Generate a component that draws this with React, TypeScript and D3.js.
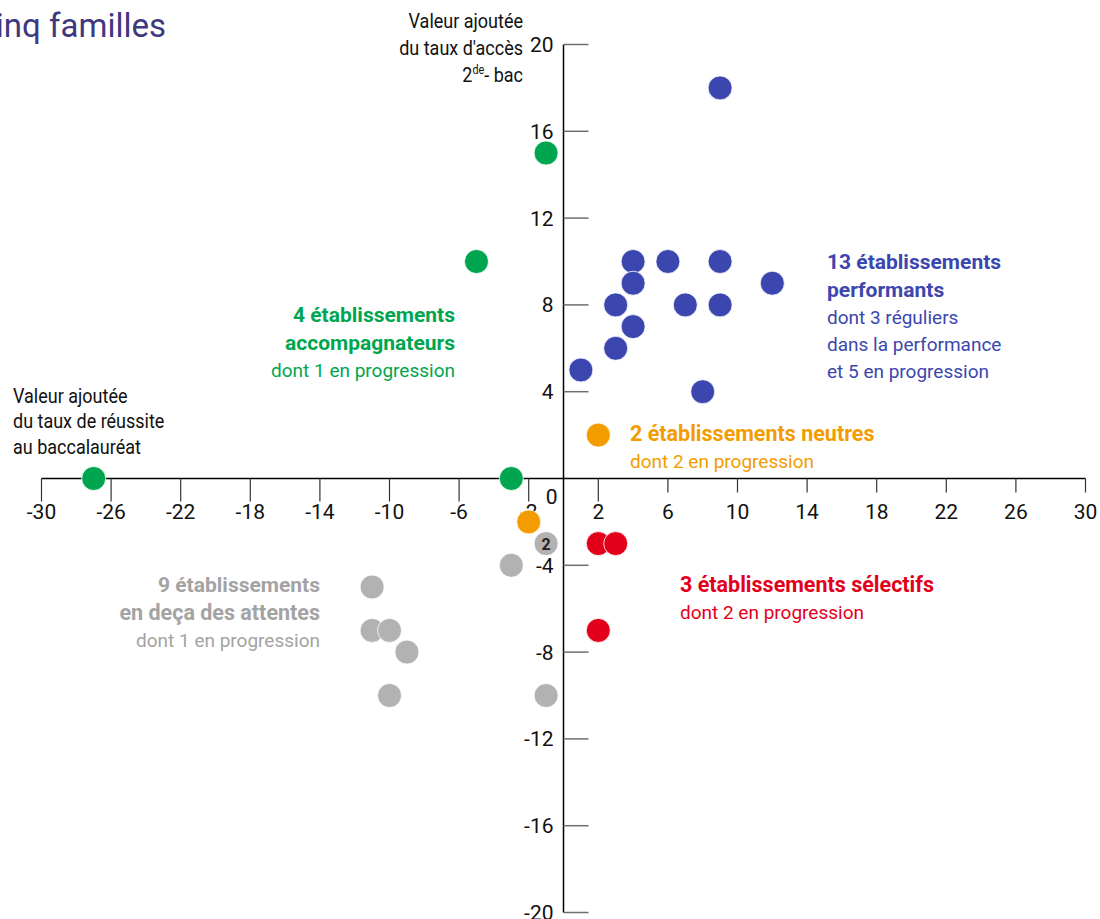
import React from "react";
// @ts-ignore
import * as d3 from "d3";

const WIDTH = 1100;
const HEIGHT = 919;

// x = valeur ajoutée taux de réussite au bac, y = valeur ajoutée taux d'accès 2de-bac
const performantsX = [9, 4, 6, 9, 4, 12, 3, 7, 9, 4, 3, 1, 8];
const performantsY = [18, 10, 10, 10, 9, 9, 8, 8, 8, 7, 6, 5, 4];
const accompagnateursX = [-1, -5, -27, -3];
const accompagnateursY = [15, 10, 0, 0];
const neutresX = [2, -2];
const neutresY = [2, -2];
const selectifsX = [2, 3, 2];
const selectifsY = [-3, -3, -7];
const enDecaX = [-1, -1, -3, -11, -11, -10, -9, -10, -1];
const enDecaY = [-3, -3, -4, -5, -7, -7, -8, -10, -10];

const xTicks = [-30, -26, -22, -18, -14, -10, -6, -2, 2, 6, 10, 14, 18, 22, 26, 30];
const yTicks = [20, 16, 12, 8, 4, -4, -8, -12, -16, -20];

const BLUE = "#3b47ae";
const GREEN = "#00a64f";
const ORANGE = "#f39c00";
const RED = "#e2001a";
const GREY = "#b2b2b2";
const GREY_TEXT = "#a3a3a3";

const groups = [
  { name: "performants", xs: performantsX, ys: performantsY, color: BLUE },
  { name: "accompagnateurs", xs: accompagnateursX, ys: accompagnateursY, color: GREEN },
  { name: "enDeca", xs: enDecaX, ys: enDecaY, color: GREY },
  { name: "neutres", xs: neutresX, ys: neutresY, color: ORANGE },
  { name: "selectifs", xs: selectifsX, ys: selectifsY, color: RED },
];

const FONT = "Roboto, 'Noto Sans', sans-serif";

const App = () => {
  const x = d3.scaleLinear().domain([-30, 30]).range([41.5, 1085.5]);
  const y = d3.scaleLinear().domain([-20, 20]).range([912.5, 44.5]);

  // group identical points so that overlapping dots get a count label
  const dots: any[] = [];
  groups.forEach((g) => {
    const counts = d3.rollup(
      g.xs.map((v, i) => [v, g.ys[i]]),
      (v: any) => v.length,
      (d: any) => d[0] + "," + d[1]
    );
    counts.forEach((n: number, key: string) => {
      const [a, b] = key.split(",").map(Number);
      dots.push({ x: a, y: b, n, color: g.color, key: g.name + key });
    });
  });

  const x0 = x(0);
  const y0 = y(0);

  return (
    <svg
      width={WIDTH}
      height={HEIGHT}
      style={{ position: "absolute", left: 0, top: 0, background: "#fff" }}
      fontFamily={FONT}
    >
      <text x={166} y={37} textAnchor="end" fontSize={33} fill="#40387f">
        cinq familles
      </text>

      {/* y axis */}
      <line x1={x0} x2={x0} y1={y(20)} y2={y(-20)} stroke="#000" strokeWidth={1.5} />
      {yTicks.map((t) => (
        <g key={"y" + t}>
          <line x1={x0} x2={x0 + 25} y1={y(t)} y2={y(t)} stroke="#6e6e6e" strokeWidth={1.5} />
          <text x={x0 - 10} y={y(t) + 7.5} textAnchor="end" fontSize={21} fill="#111">
            {t}
          </text>
        </g>
      ))}

      {/* x axis */}
      <line x1={x(-30)} x2={x(30)} y1={y0} y2={y0} stroke="#000" strokeWidth={1.5} />
      {xTicks.map((t) => (
        <g key={"x" + t}>
          <line x1={x(t)} x2={x(t)} y1={y0} y2={y0 + (t <= 2 ? 23 : 14)} stroke="#333" strokeWidth={1.2} />
          <text x={x(t)} y={y0 + 40} textAnchor="middle" fontSize={21} fill="#111">
            {t}
          </text>
        </g>
      ))}
      <text x={x0 - 6} y={y0 + 25} textAnchor="end" fontSize={21} fill="#111">
        0
      </text>

      {/* axis titles (condensed) */}
      <g fontSize={20} fill="#111" transform="translate(13,0) scale(0.9,1)">
        <text x={0} y={403}>Valeur ajoutée</text>
        <text x={0} y={428}>du taux de réussite</text>
        <text x={0} y={454}>au baccalauréat</text>
      </g>
      <g fontSize={20} fill="#111" transform="translate(523,0) scale(0.9,1)" textAnchor="end">
        <text x={0} y={28}>Valeur ajoutée</text>
        <text x={0} y={55}>du taux d'accès</text>
        <text x={0} y={82}>
          2<tspan fontSize={12} dy={-8}>de</tspan>
          <tspan dy={8}>- bac</tspan>
        </text>
      </g>

      {/* dots */}
      {dots.map((d) => (
        <g key={d.key}>
          <circle cx={x(d.x)} cy={y(d.y)} r={12} fill={d.color} stroke="#fff" strokeWidth={0.8} />
          {d.n > 1 && (
            <text
              x={x(d.x)}
              y={y(d.y) + 6}
              textAnchor="middle"
              fontSize={16}
              fontWeight="bold"
              fill="#222"
            >
              {d.n}
            </text>
          )}
        </g>
      ))}

      {/* annotations */}
      <g fill={BLUE}>
        <text x={827} y={269} fontSize={21} fontWeight="bold">13 établissements</text>
        <text x={827} y={297} fontSize={21} fontWeight="bold">performants</text>
        <text x={827} y={324} fontSize={19}>dont 3 réguliers</text>
        <text x={827} y={351} fontSize={19}>dans la performance</text>
        <text x={827} y={378} fontSize={19}>et 5 en progression</text>
      </g>
      <g fill={GREEN} textAnchor="end">
        <text x={455} y={322} fontSize={21} fontWeight="bold">4 établissements</text>
        <text x={455} y={350} fontSize={21} fontWeight="bold">accompagnateurs</text>
        <text x={455} y={377} fontSize={19}>dont 1 en progression</text>
      </g>
      <g fill={ORANGE}>
        <text x={630} y={441} fontSize={21.5} fontWeight="bold">2 établissements neutres</text>
        <text x={630} y={468} fontSize={19}>dont 2 en progression</text>
      </g>
      <g fill={GREY_TEXT} textAnchor="end">
        <text x={320} y={592} fontSize={21} fontWeight="bold">9 établissements</text>
        <text x={320} y={620} fontSize={21.5} fontWeight="bold">en deça des attentes</text>
        <text x={320} y={647} fontSize={19}>dont 1 en progression</text>
      </g>
      <g fill={RED}>
        <text x={680} y={592} fontSize={21.5} fontWeight="bold">3 établissements sélectifs</text>
        <text x={680} y={619} fontSize={19}>dont 2 en progression</text>
      </g>
    </svg>
  );
};

export default App;
